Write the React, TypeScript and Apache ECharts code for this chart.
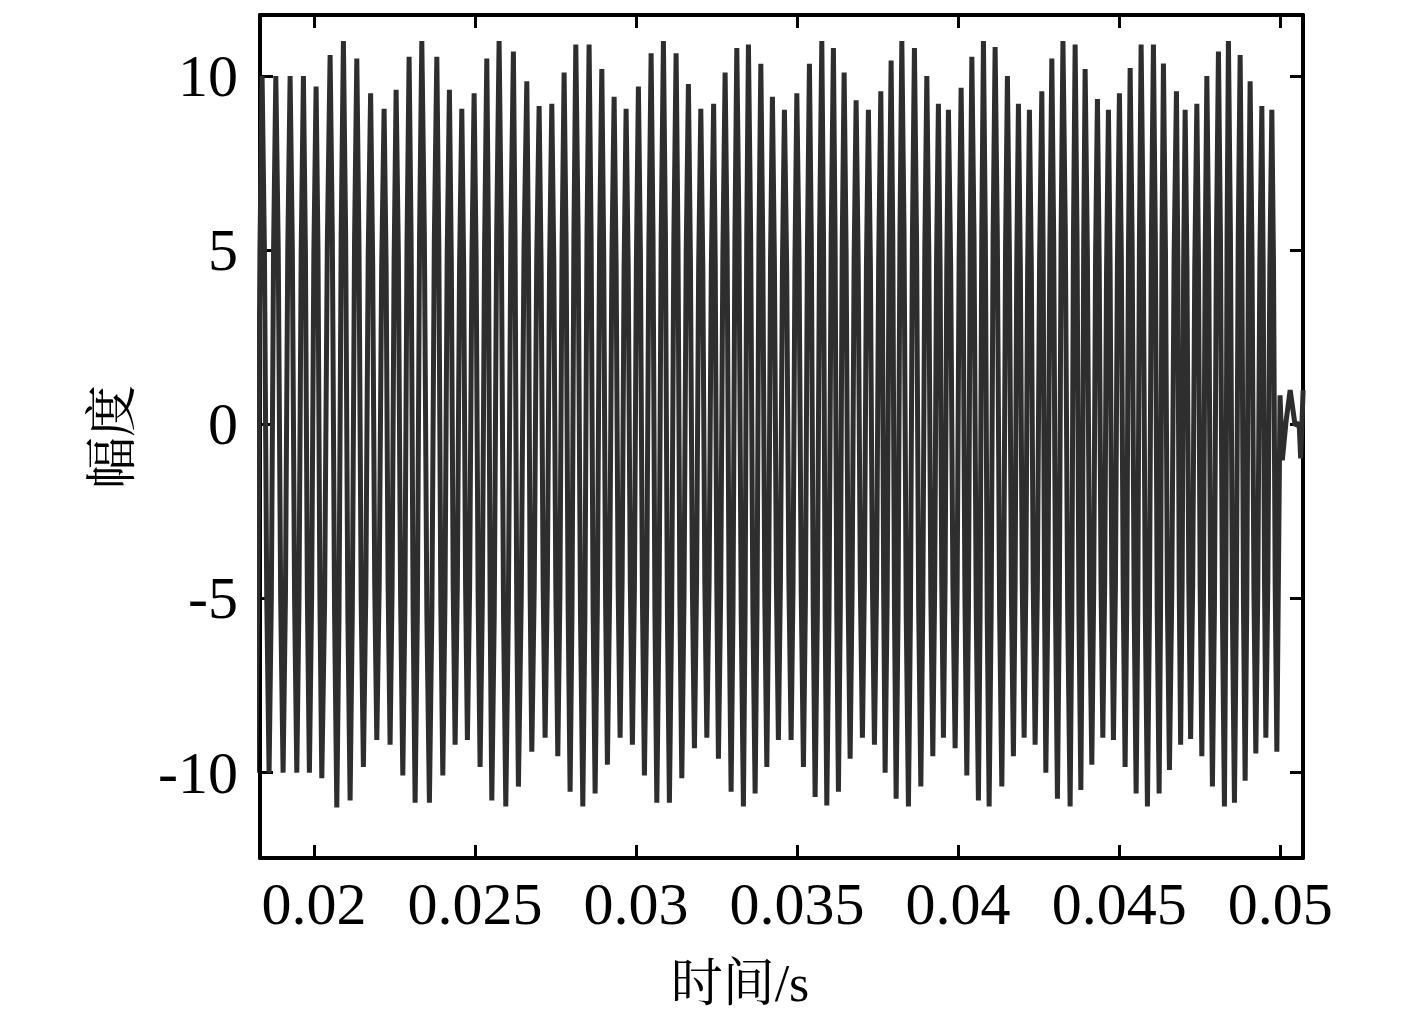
import React, { useEffect, useRef } from "react";
import * as echarts from "echarts";

// time in milliseconds, amplitude in raw units
const leadTimes = [17.981, 18.048, 18.116, 18.183, 18.250, 18.318];
const leadValues = [10.0, 5.0, -5.0, -10.0, -5.0, 5.0];

const peakTimes = [
  18.385, 18.811, 19.255, 19.668, 20.062, 20.497, 20.910, 21.326, 21.755, 22.174,
  22.547, 22.950, 23.345, 23.811, 24.202, 24.587, 24.969, 25.363, 25.745, 26.189,
  26.606, 26.988, 27.382, 27.764, 28.127, 28.540, 28.935, 29.317, 29.689, 30.071,
  30.466, 30.848, 31.242, 31.624, 32.009, 32.407, 32.764, 33.127, 33.488, 33.873,
  34.233, 34.606, 34.991, 35.382, 35.767, 36.127, 36.460, 36.832, 37.214, 37.599,
  37.919, 38.252, 38.643, 39.028, 39.388, 39.699, 40.093, 40.426, 40.786, 41.149,
  41.531, 41.873, 42.214, 42.599, 42.910, 43.255, 43.634, 43.944, 44.326, 44.668,
  45.009, 45.342, 45.683, 46.065, 46.376, 46.780, 47.050, 47.413, 47.724, 48.084,
  48.394, 48.758, 49.068, 49.432, 49.742,
];
const peakValues = [
  10.0, 10.0, 10.0, 10.0, 9.7, 10.6, 11.0, 10.5, 9.5, 9.06,
  9.6, 10.55, 11.0, 10.55, 9.6, 9.06, 9.5, 10.5, 11.0, 10.7,
  9.85, 9.14, 9.2, 10.1, 10.9, 10.9, 10.2, 9.4, 9.06, 9.7,
  10.65, 11.0, 10.65, 9.77, 9.06, 9.2, 10.1, 10.8, 10.9, 10.35,
  9.4, 9.03, 9.5, 10.35, 11.0, 10.8, 10.1, 9.3, 9.03, 9.56,
  10.44, 11.0, 10.8, 10.0, 9.2, 9.03, 9.66, 10.55, 11.0, 10.83,
  10.0, 9.2, 9.03, 9.56, 10.5, 11.0, 10.9, 10.2, 9.34, 9.03,
  9.5, 10.23, 10.9, 10.9, 10.36, 9.56, 9.03, 9.2, 10.0, 10.7,
  11.0, 10.6, 9.85, 9.14, 9.03,
];

const troughTimes = [
  18.602, 19.037, 19.463, 19.854, 20.239, 20.705, 21.118, 21.531, 21.947, 22.360,
  22.755, 23.137, 23.581, 23.997, 24.379, 24.761, 25.155, 25.519, 25.953, 26.345,
  26.761, 27.174, 27.568, 27.950, 28.345, 28.727, 29.109, 29.503, 29.885, 30.258,
  30.643, 31.034, 31.419, 31.811, 32.196, 32.556, 32.950, 33.332, 33.696, 34.059,
  34.419, 34.814, 35.196, 35.559, 35.922, 36.283, 36.646, 37.028, 37.401, 37.733,
  38.075, 38.457, 38.842, 39.214, 39.544, 39.907, 40.270, 40.630, 40.963, 41.357,
  41.717, 42.050, 42.391, 42.724, 43.084, 43.478, 43.811, 44.152, 44.494, 44.823,
  45.186, 45.528, 45.879, 46.242, 46.562, 46.910, 47.220, 47.568, 47.897, 48.270,
  48.581, 48.913, 49.245, 49.556, 49.898,
];
const troughValues = [
  -10.0, -10.0, -10.0, -10.0, -10.16, -11.0, -10.8, -9.84, -9.06, -9.2,
  -10.08, -10.86, -10.86, -10.08, -9.2, -9.06, -9.84, -10.8, -10.97, -10.4,
  -9.4, -9.0, -9.53, -10.55, -10.97, -10.6, -9.77, -9.0, -9.2, -10.08,
  -10.86, -10.86, -10.16, -9.3, -9.0, -9.6, -10.55, -10.97, -10.6, -9.84,
  -9.06, -9.06, -9.84, -10.7, -10.94, -10.55, -9.6, -9.0, -9.2, -10.0,
  -10.75, -10.97, -10.4, -9.53, -9.0, -9.3, -10.08, -10.8, -10.97, -10.4,
  -9.53, -9.0, -9.2, -10.0, -10.75, -10.97, -10.5, -9.77, -9.0, -9.06,
  -9.84, -10.6, -10.97, -10.6, -9.92, -9.2, -9.03, -9.53, -10.4, -10.97,
  -10.86, -10.23, -9.45, -9.0, -9.4,
];

// shoulder (kink) levels of each falling stroke, about half way up (+) and down (-)
const fallKnees = [
  5.0, 5.0, 5.0, 5.0, 4.97, 5.4, 5.45, 5.09, 4.64, 4.57,
  4.92, 5.35, 5.47, 5.16, 4.7, 4.53, 4.84, 5.33, 5.49, 5.28,
  4.81, 4.54, 4.68, 5.16, 5.47, 5.38, 4.99, 4.6, 4.57, 4.95,
  5.38, 5.47, 5.2, 4.77, 4.52, 4.7, 5.16, 5.44, 5.38, 5.05,
  4.62, 4.52, 4.84, 5.26, 5.49, 5.34, 4.93, 4.58, 4.56, 4.89,
  5.3, 5.49, 5.3, 4.88, 4.55, 4.58, 4.94, 5.34, 5.49, 5.31,
  4.88, 4.55, 4.56, 4.89, 5.31, 5.49, 5.35, 4.99, 4.59, 4.52,
  4.84, 5.21, 5.47, 5.38, 5.07, 4.69, 4.52, 4.68, 5.1, 5.42,
  5.47, 5.21, 4.83, 4.54, 4.61,
];
// shoulder levels of each rising stroke
const riseKnees = [
  5.0, 5.0, 5.0, 4.93, 5.19, 5.5, 5.33, 4.84, 4.53, 4.7,
  5.16, 5.47, 5.35, 4.92, 4.57, 4.64, 5.09, 5.45, 5.42, 5.06,
  4.64, 4.55, 4.91, 5.36, 5.47, 5.2, 4.79, 4.52, 4.73, 5.18,
  5.47, 5.38, 4.98, 4.59, 4.55, 4.93, 5.34, 5.47, 5.24, 4.81,
  4.52, 4.64, 5.05, 5.43, 5.44, 5.16, 4.73, 4.51, 4.69, 5.11,
  5.44, 5.44, 5.1, 4.68, 4.51, 4.74, 5.16, 5.45, 5.45, 5.1,
  4.68, 4.51, 4.69, 5.13, 5.44, 5.47, 5.18, 4.78, 4.51, 4.64,
  5.02, 5.38, 5.47, 5.24, 4.87, 4.56, 4.56, 4.88, 5.28, 5.49,
  5.37, 5.02, 4.65, 4.51,
];

const tailTimes = [49.997, 50.068, 50.186, 50.311, 50.466, 50.590, 50.637, 50.714];
const tailValues = [0.83, -1.03, 0.1, 0.98, -0.03, 0.03, -0.98, 0.98];

const xMin = 18.32;
const xMax = 50.71;
const yMin = -12.45;
const yMax = 11.75;

const xTitle = "时间/s";
const yTitle = "幅度";

const serif = "'Times New Roman', 'Liberation Serif', serif";
const cjk = "'Times New Roman', 'Liberation Serif', 'Noto Serif CJK SC', 'Noto Sans CJK SC', serif";

export default function App() {
  const ref = useRef<HTMLDivElement>(null);
  useEffect(() => {
    document.body.style.margin = "0";
    const chart = echarts.init(ref.current!, null, { renderer: "svg" });
    const pts: [number, number][] = [];
    leadTimes.forEach((t, i) => pts.push([t, leadValues[i]]));
    peakTimes.forEach((tp, k) => {
      const tq = troughTimes[k];
      pts.push([tp, peakValues[k]]);
      pts.push([tp + (tq - tp) / 3, fallKnees[k]]);
      pts.push([tp + (2 * (tq - tp)) / 3, -fallKnees[k]]);
      pts.push([tq, troughValues[k]]);
      if (k < riseKnees.length && k + 1 < peakTimes.length) {
        const tn = peakTimes[k + 1];
        pts.push([tq + (tn - tq) / 3, -riseKnees[k]]);
        pts.push([tq + (2 * (tn - tq)) / 3, riseKnees[k]]);
      }
    });
    tailTimes.forEach((t, i) => pts.push([t, tailValues[i]]));
    pts.sort((a, b) => a[0] - b[0]);

    const axisLine = { show: true, onZero: false, lineStyle: { color: "#000", width: 4 } };
    const axisTick = { show: true, inside: true, length: 13, lineStyle: { color: "#000", width: 3 } };

    chart.setOption({
      animation: false,
      backgroundColor: "#fff",
      grid: { left: 260, right: 114, top: 15, bottom: 156, containLabel: false },
      xAxis: [
        {
          type: "value",
          position: "bottom",
          min: xMin,
          max: xMax,
          splitNumber: 5,
          axisLine,
          axisTick,
          splitLine: { show: false },
          axisLabel: {
            show: true,
            margin: 16,
            color: "#000",
            fontFamily: serif,
            fontSize: 60,
            showMinLabel: false,
            showMaxLabel: false,
            formatter: (v: number) => String(+(v / 1000).toFixed(4)),
          },
        },
        {
          type: "value",
          position: "top",
          min: xMin,
          max: xMax,
          splitNumber: 5,
          axisLine,
          axisTick,
          splitLine: { show: false },
          axisLabel: { show: false },
        },
      ],
      yAxis: [
        {
          type: "value",
          position: "left",
          min: yMin,
          max: yMax,
          splitNumber: 5,
          axisLine,
          axisTick,
          splitLine: { show: false },
          axisLabel: {
            show: true,
            margin: 22,
            color: "#000",
            fontFamily: serif,
            fontSize: 60,
            showMinLabel: false,
            showMaxLabel: false,
          },
        },
        {
          type: "value",
          position: "right",
          min: yMin,
          max: yMax,
          splitNumber: 5,
          axisLine,
          axisTick,
          splitLine: { show: false },
          axisLabel: { show: false },
        },
      ],
      graphic: [
        {
          type: "text",
          x: 740,
          y: 983,
          style: {
            text: xTitle,
            fontFamily: cjk,
            fontSize: 52,
            fill: "#000",
            align: "center",
            verticalAlign: "middle",
            textAlign: "center",
            textVerticalAlign: "middle",
          },
        },
        {
          type: "text",
          x: 112,
          y: 437,
          rotation: Math.PI / 2,
          style: {
            text: yTitle,
            fontFamily: cjk,
            fontSize: 52,
            fill: "#000",
            align: "center",
            verticalAlign: "middle",
            textAlign: "center",
            textVerticalAlign: "middle",
          },
        },
      ],
      series: [
        {
          type: "line",
          xAxisIndex: 0,
          yAxisIndex: 0,
          data: pts,
          showSymbol: false,
          symbol: "none",
          silent: true,
          clip: true,
          lineStyle: { color: "#2e2e2e", width: 5, join: "bevel", cap: "butt" },
        },
      ],
    });
    return () => chart.dispose();
  }, []);
  return <div ref={ref} style={{ position: "absolute", left: 0, top: 0, width: 1417, height: 1014 }} />;
}
